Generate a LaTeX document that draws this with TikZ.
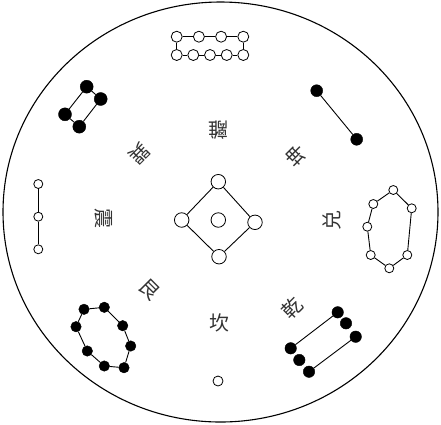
\documentclass[tikz,border=0pt]{standalone}
\usepackage{fontspec}
\newfontfamily\cjk{Noto Sans CJK SC}
\begin{document}
\begin{tikzpicture}[x=1pt,y=-1pt,
  wd/.style={circle,draw=black,fill=white,inner sep=0pt,minimum size=#1,line width=0.8pt},
  wd/.default=9pt,
  bd/.style={circle,draw=black,fill=black,inner sep=0pt,minimum size=#1},
  bd/.default=11pt,
  ln/.style={line width=0.9pt},
  gua/.style={font=\cjk\fontsize{20}{20}\selectfont,text=black!80,inner sep=0pt}]
\useasboundingbox (0,0) rectangle (441,424);
\draw[line width=1.1pt] (220.5,212) ellipse [x radius=217.5, y radius=210];
% top: 9 white
\node[wd=11pt] (u1) at (176.7,36.7) {};
\node[wd=11pt] (u2) at (198.9,36.7) {};
\node[wd=11pt] (u3) at (221.1,36.7) {};
\node[wd=11pt] (u4) at (243.3,36.7) {};
\node[wd=11pt] (l1) at (176.7,55) {};
\node[wd=11pt] (l2) at (193.3,55) {};
\node[wd=11pt] (l3) at (210,55) {};
\node[wd=11pt] (l4) at (226.7,55) {};
\node[wd=11pt] (l5) at (243.3,55) {};
\draw[ln] (u1)--(u2) (u2)--(u3) (u3)--(u4) (u1)--(l1) (u4)--(l5)
  (l1)--(l2) (l2)--(l3) (l3)--(l4) (l4)--(l5);
% upper left: 4 black
\node[bd=13pt] (a1) at (86.7,86.7) {};
\node[bd=13pt] (a2) at (100.7,99) {};
\node[bd=13pt] (a3) at (65,114.3) {};
\node[bd=13pt] (a4) at (79.3,126.7) {};
\draw[ln] (a1)--(a2) (a1)--(a3) (a2)--(a4) (a3)--(a4);
% upper right: 2 black
\node[bd=12pt] (b1) at (316.7,90.7) {};
\node[bd=12pt] (b2) at (356.7,139.3) {};
\draw[ln] (b1)--(b2);
% left: 3 white
\node[wd] (c1) at (38.3,184) {};
\node[wd] (c2) at (38.3,216.7) {};
\node[wd] (c3) at (38.3,249.3) {};
\draw[ln] (c1)--(c2) (c2)--(c3);
% right: 7 white
\node[wd] (d1) at (393.3,190) {};
\node[wd] (d2) at (373.3,204) {};
\node[wd] (d3) at (367.3,226.7) {};
\node[wd] (d4) at (370.7,255) {};
\node[wd] (d5) at (389.3,268.3) {};
\node[wd] (d6) at (407.3,255) {};
\node[wd] (d7) at (411.7,208.3) {};
\draw[ln] (d1)--(d2) (d2)--(d3) (d3)--(d4) (d4)--(d5) (d5)--(d6) (d6)--(d7) (d7)--(d1);
% center: 5 white
\node[wd=14.5pt] (e1) at (218.3,181.7) {};
\node[wd=14.5pt] (e2) at (181.7,220) {};
\node[wd=14.5pt] (e3) at (255,222.3) {};
\node[wd=14.5pt] (e4) at (219,256.7) {};
\node[wd=14.5pt] (e5) at (218.3,220) {};
\draw[ln] (e1)--(e2) (e2)--(e4) (e4)--(e3) (e3)--(e1);
% lower left: 8 black
\node[bd=10.5pt] (f1) at (84,309.3) {};
\node[bd=10.5pt] (f2) at (104.3,307.3) {};
\node[bd=10.5pt] (f3) at (122.7,325.7) {};
\node[bd=10.5pt] (f4) at (130.7,346) {};
\node[bd=10.5pt] (f5) at (124,367.7) {};
\node[bd=10.5pt] (f6) at (104.3,366) {};
\node[bd=10.5pt] (f7) at (87.3,351) {};
\node[bd=10.5pt] (f8) at (76,326.7) {};
\draw[ln] (f1)--(f2) (f2)--(f3) (f3)--(f4) (f4)--(f5) (f5)--(f6) (f6)--(f7) (f7)--(f8) (f8)--(f1);
% lower right: 6 black
\node[bd=11.5pt] (g1) at (337.7,312.3) {};
\node[bd=11.5pt] (g2) at (346,323.3) {};
\node[bd=11.5pt] (g3) at (355.7,336.7) {};
\node[bd=11.5pt] (g4) at (290.7,348.3) {};
\node[bd=11.5pt] (g5) at (299.3,360) {};
\node[bd=11.5pt] (g6) at (309,371.7) {};
\draw[ln] (g1)--(g4) (g3)--(g6);
% bottom: 1 white
\node[wd=10pt] (h1) at (218,381) {};
% labels
\node[gua,rotate=180] (li) at (218,130) {離};
\node[gua,rotate=-135] (xun) at (140,154) {巽};
\node[gua,rotate=135] (kun) at (296,156) {坤};
\node[gua,rotate=-90] (zhen) at (104,218) {震};
\node[gua,rotate=90] (dui) at (332,220) {兑};
\node[gua,rotate=-45] (gen) at (150,290) {艮};
\node[gua] (kan) at (219,323) {坎};
\node[gua,rotate=45] (qian) at (292,308) {乾};
\end{tikzpicture}
\end{document}
